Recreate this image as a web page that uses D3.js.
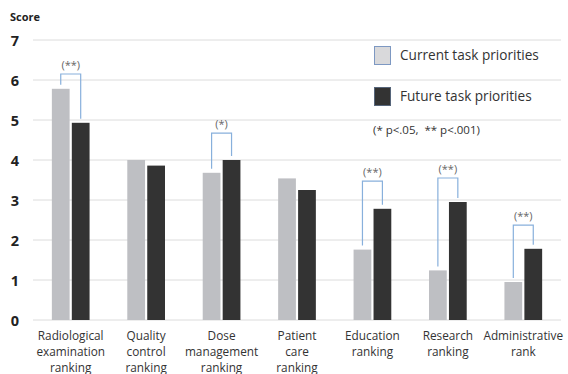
<!DOCTYPE html>
<html>
<head>
<meta charset="utf-8">
<script src="https://cdn.jsdelivr.net/npm/d3@7"></script>
<style>
  html, body { margin: 0; padding: 0; background: #fff; }
  svg { display: block; font-family: "Open Sans", "Noto Sans", sans-serif; }
</style>
</head>
<body>
<svg id="chart" width="568" height="374"></svg>
<script>
// Task priority rankings: current vs. future
const categories = [
  ["Radiological", "examination", "ranking"],
  ["Quality", "control", "ranking"],
  ["Dose", "management", "ranking"],
  ["Patient", "care", "ranking"],
  ["Education", "ranking"],
  ["Research", "ranking"],
  ["Administrative", "rank"]
];
const currentScores = [5.78, 4.0, 3.68, 3.54, 1.76, 1.24, 0.95];
const futureScores  = [4.93, 3.86, 4.0, 3.25, 2.78, 2.95, 1.78];
const seriesNames = ["Current task priorities", "Future task priorities"];
const yTicks = [0, 1, 2, 3, 4, 5, 6, 7];

// Significance brackets: category index, marker, bracket height (score units)
const sigIndex  = [0, 2, 4, 5, 6];
const sigMarks  = ["(**)", "(*)", "(**)", "(**)", "(**)"];
const sigLevels = [6.15, 4.67, 3.47, 3.55, 2.37];
const footnote = "(* p<.05,  ** p<.001)";

const svg = d3.select("#chart");
const plot = { left: 33, right: 561, top: 40, bottom: 320 };

const x = d3.scaleBand()
  .domain(d3.range(categories.length))
  .range([plot.left, plot.right])
  .paddingInner(0.5)
  .paddingOuter(0.25);
const x1 = d3.scaleBand()
  .domain([0, 1])
  .range([0, x.bandwidth()])
  .paddingInner(0.11);
const y = d3.scaleLinear().domain([0, 7]).range([plot.bottom, plot.top]);

const colors = ["#bebfc3", "#333333"];

// Gridlines
svg.append("g")
  .selectAll("line")
  .data(yTicks)
  .join("line")
  .attr("x1", plot.left).attr("x2", plot.right)
  .attr("y1", d => y(d)).attr("y2", d => y(d))
  .attr("stroke", "#dcdcdc").attr("stroke-width", 1);

// Y axis tick labels
const yAxis = d3.axisLeft(y).tickValues(yTicks).tickFormat(d3.format("d")).tickSize(0).tickPadding(0);
const gy = svg.append("g").attr("transform", "translate(19,0)").call(yAxis);
gy.select(".domain").remove();
gy.selectAll("text")
  .attr("x", 0)
  .attr("dy", "0.36em")
  .attr("text-anchor", "end")
  .attr("font-size", 14.5)
  .attr("font-weight", 700)
  .attr("fill", "#222")
  .style("font-family", "'Open Sans', sans-serif");

svg.append("text")
  .attr("x", 10).attr("y", 21)
  .attr("font-size", 11)
  .attr("font-weight", 700)
  .attr("fill", "#222")
  .text("Score");

// Bars
const groups = svg.append("g")
  .selectAll("g")
  .data(d3.range(categories.length))
  .join("g")
  .attr("transform", i => `translate(${x(i)},0)`);

groups.selectAll("rect")
  .data(i => [currentScores[i], futureScores[i]].map((v, s) => ({ v, s })))
  .join("rect")
  .attr("x", d => x1(d.s))
  .attr("width", x1.bandwidth())
  .attr("y", d => y(d.v))
  .attr("height", d => y(0) - y(d.v))
  .attr("fill", d => colors[d.s]);

// Category labels
const xAxis = svg.append("g");
categories.forEach((lines, i) => {
  const cx = x(i) + x.bandwidth() / 2;
  const t = xAxis.append("text")
    .attr("x", cx)
    .attr("y", 340)
    .attr("text-anchor", "middle")
    .attr("font-size", 11.8)
    .attr("fill", "#333");
  lines.forEach((ln, k) => {
    t.append("tspan")
      .attr("x", cx)
      .attr("dy", k === 0 ? 0 : 16)
      .text(ln);
  });
});

// Significance brackets
const brackets = svg.append("g");
sigIndex.forEach((ci, k) => {
  const xl = x(ci) + x1(0) + x1.bandwidth() / 2;
  const xr = x(ci) + x1(1) + x1.bandwidth() / 2;
  const top = y(sigLevels[k]);
  const yl = y(currentScores[ci]) - 4;
  const yr = y(futureScores[ci]) - 4;
  brackets.append("path")
    .attr("d", `M${xl},${yl}V${top}H${xr}V${yr}`)
    .attr("fill", "none")
    .attr("stroke", "#88b0dc")
    .attr("stroke-width", 1.2);
  brackets.append("text")
    .attr("x", (xl + xr) / 2)
    .attr("y", top - 5)
    .attr("text-anchor", "middle")
    .attr("font-size", 11)
    .attr("fill", "#666")
    .text(sigMarks[k]);
});

// Legend
const legend = svg.append("g");
seriesNames.forEach((name, s) => {
  const ly = 46 + s * 41;
  legend.append("rect")
    .attr("x", 374.5).attr("y", ly + 0.5)
    .attr("width", 16).attr("height", 18)
    .attr("fill", s === 0 ? "#d9d9db" : "#333333")
    .attr("stroke", s === 0 ? "#7d98c2" : "#56657a")
    .attr("stroke-width", 1);
  legend.append("text")
    .attr("x", 400).attr("y", ly + 14)
    .attr("font-size", 13.6)
    .attr("fill", "#333")
    .text(name);
});
legend.append("text")
  .attr("x", 373).attr("y", 134)
  .attr("font-size", 11.5)
  .attr("fill", "#333")
  .style("white-space", "pre")
  .text(footnote);
</script>
</body>
</html>
